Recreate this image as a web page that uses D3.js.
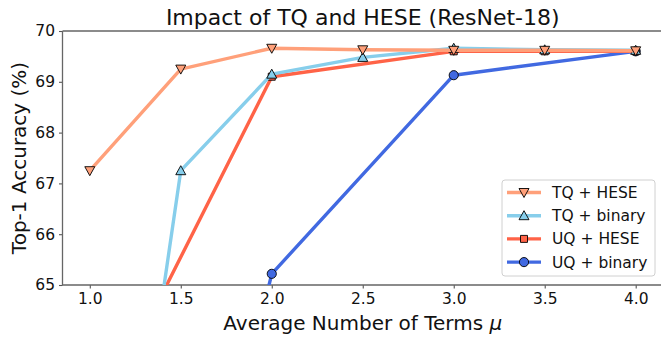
<!DOCTYPE html>
<html>
<head>
<meta charset="utf-8">
<script src="https://cdn.jsdelivr.net/npm/d3@7"></script>
<style>
  body { margin: 0; background: #fff; }
  svg { font-family: 'DejaVu Sans', sans-serif; }
</style>
</head>
<body>
<svg id="chart" width="661" height="339"></svg>
<script>
// values
const seriesNames = ['TQ + HESE', 'TQ + binary', 'UQ + HESE', 'UQ + binary'];
const tqHeseX = [1.0, 1.5, 2.0, 2.5, 3.0, 3.5, 4.0];
const tqHeseY = [67.25, 69.25, 69.66, 69.63, 69.62, 69.62, 69.61];
const tqBinX = [1.25, 1.5, 2.0, 2.5, 3.0, 3.5, 4.0];
const tqBinY = [61.1, 67.25, 69.15, 69.48, 69.66, 69.63, 69.62];
const uqHeseX = [1.0, 2.0, 3.0, 3.5, 4.0];
const uqHeseY = [62.0, 69.1, 69.6, 69.6, 69.6];
const uqBinX = [1.5, 2.0, 3.0, 4.0];
const uqBinY = [57.9, 65.22, 69.13, 69.6];
const xTicks = [1.0, 1.5, 2.0, 2.5, 3.0, 3.5, 4.0];
const yTicks = [65, 66, 67, 68, 69, 70];

const colors = ['#FFA07A', '#87CEEB', '#FF6347', '#4169E1'];
const markers = ['down', 'up', 'square', 'circle'];

const series = [
  {name: seriesNames[0], xs: tqHeseX, ys: tqHeseY},
  {name: seriesNames[1], xs: tqBinX, ys: tqBinY},
  {name: seriesNames[2], xs: uqHeseX, ys: uqHeseY},
  {name: seriesNames[3], xs: uqBinX, ys: uqBinY},
];
series.forEach((s, i) => {
  s.color = colors[i];
  s.marker = markers[i];
  s.points = s.xs.map((x, j) => ({x: x, y: s.ys[j]}));
});

const plotLeft = 62.5, plotRight = 663, plotTop = 31, plotBottom = 285;

const x = d3.scaleLinear().domain([0.85, 4.15]).range([plotLeft, plotRight]);
const y = d3.scaleLinear().domain([65, 70]).range([plotBottom, plotTop]);

const svg = d3.select('#chart');

svg.append('defs').append('clipPath')
    .attr('id', 'plot-clip')
    .append('rect')
    .attr('x', plotLeft)
    .attr('y', plotTop)
    .attr('width', plotRight - plotLeft)
    .attr('height', plotBottom - plotTop);

function markerPath(type) {
  if (type === 'down') return 'M-5,-4L5,-4L0,5Z';
  if (type === 'up') return 'M-5,4L5,4L0,-5Z';
  if (type === 'square') return 'M-3.5,-3.5L3.5,-3.5L3.5,3.5L-3.5,3.5Z';
  return d3.symbol().type(d3.symbolCircle).size(66)();
}

// axes
const xAxis = svg.append('g')
    .attr('transform', `translate(0,${plotBottom})`)
    .call(d3.axisBottom(x).tickValues(xTicks).tickFormat(d3.format('.1f')).tickSize(3.5).tickPadding(4));
const yAxis = svg.append('g')
    .attr('transform', `translate(${plotLeft},0)`)
    .call(d3.axisLeft(y).tickValues(yTicks).tickFormat(d3.format('d')).tickSize(3.5).tickPadding(4));

[xAxis, yAxis].forEach((a) => {
  a.select('.domain').remove();
  a.selectAll('line').attr('stroke', '#555').attr('stroke-width', 1.1);
  a.selectAll('text')
      .attr('fill', '#111')
      .style('font-size', '15.5px')
      .style('font-family', 'DejaVu Sans');
});

// spines
svg.append('path')
    .attr('d', `M${plotLeft},${plotTop}L${plotLeft},${plotBottom}L${plotRight},${plotBottom}M${plotLeft},${plotTop}L${plotRight},${plotTop}`)
    .attr('fill', 'none')
    .attr('stroke', '#666')
    .attr('stroke-width', 1.3);

const line = d3.line()
    .x((d) => x(d.x))
    .y((d) => y(d.y));

const plot = svg.append('g').attr('clip-path', 'url(#plot-clip)');

// reference shows TQ + HESE on top, so draw in reverse
series.slice().reverse().forEach((s) => {
  const g = plot.append('g');
  g.append('path')
      .datum(s.points)
      .attr('d', line)
      .attr('fill', 'none')
      .attr('stroke', s.color)
      .attr('stroke-width', 3.4)
      .attr('stroke-linejoin', 'round');
  g.selectAll('.pt')
      .data(s.points)
      .enter()
      .append('path')
      .attr('class', 'pt')
      .attr('transform', (d) => `translate(${x(d.x)},${y(d.y)})`)
      .attr('d', markerPath(s.marker))
      .attr('fill', s.color)
      .attr('stroke', '#000')
      .attr('stroke-width', 0.9);
});

// title and labels
svg.append('text')
    .attr('x', (plotLeft + plotRight) / 2)
    .attr('y', 25)
    .attr('text-anchor', 'middle')
    .style('font-size', '22px')
    .attr('fill', '#111')
    .text('Impact of TQ and HESE (ResNet-18)');

const xl = svg.append('text')
    .attr('x', (plotLeft + plotRight) / 2)
    .attr('y', 330)
    .attr('text-anchor', 'middle')
    .style('font-size', '20px')
    .attr('fill', '#111');
xl.append('tspan').text('Average Number of Terms ');
xl.append('tspan').style('font-style', 'italic').text('μ');

svg.append('text')
    .attr('transform', `translate(26,${(plotTop + plotBottom) / 2}) rotate(-90)`)
    .attr('text-anchor', 'middle')
    .style('font-size', '20px')
    .attr('fill', '#111')
    .text('Top-1 Accuracy (%)');

// legend
const legend = svg.append('g');
legend.append('rect')
    .attr('x', 502)
    .attr('y', 180)
    .attr('width', 153)
    .attr('height', 96)
    .attr('rx', 3)
    .attr('fill', 'rgba(255,255,255,0.8)')
    .attr('stroke', '#d0d0d0')
    .attr('stroke-width', 1);

const rows = legend.selectAll('.row')
    .data(series)
    .enter()
    .append('g')
    .attr('class', 'row')
    .attr('transform', (d, i) => `translate(0,${192.5 + i * 23.2})`);
rows.append('line')
    .attr('x1', 507).attr('x2', 541)
    .attr('stroke', (d) => d.color)
    .attr('stroke-width', 3.4);
rows.append('path')
    .attr('transform', 'translate(524,0)')
    .attr('d', (d) => markerPath(d.marker))
    .attr('fill', (d) => d.color)
    .attr('stroke', '#000')
    .attr('stroke-width', 0.9);
rows.append('text')
    .attr('x', 552)
    .attr('dy', '0.35em')
    .style('font-size', '15.5px')
    .attr('fill', '#111')
    .text((d) => d.name);
</script>
</body>
</html>
